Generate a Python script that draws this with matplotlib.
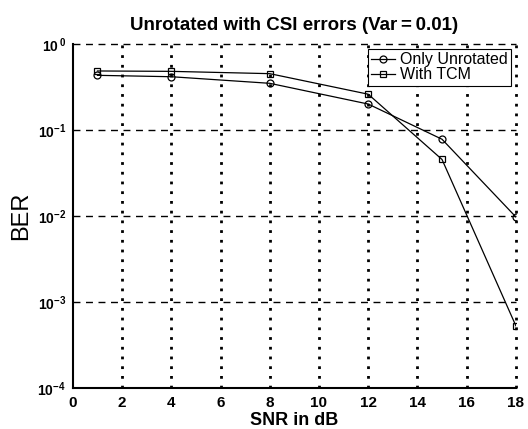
import matplotlib
matplotlib.use("Agg")
import matplotlib.pyplot as plt
from matplotlib.ticker import FixedLocator, NullLocator

snr = [1, 4, 8, 12, 15, 18]
ber_unrot = [0.436, 0.42, 0.352, 0.202, 0.0786, 0.0098]
ber_tcm = [0.49, 0.485, 0.456, 0.263, 0.0457, 0.00053]
labels = ["Only Unrotated", "With TCM"]
xticks = [0, 2, 4, 6, 8, 10, 12, 14, 16, 18]
yticks = [1e-4, 1e-3, 1e-2, 1e-1, 1e0]
ytick_labels = [r"$\mathbf{10^{-4}}$", r"$\mathbf{10^{-3}}$", r"$\mathbf{10^{-2}}$", r"$\mathbf{10^{-1}}$", r"$\mathbf{10^{\,0}}$"]

plt.rcParams['font.family'] = ['Liberation Sans', 'DejaVu Sans']
plt.rcParams['mathtext.fontset'] = 'custom'
plt.rcParams['mathtext.rm'] = 'Liberation Sans'
plt.rcParams['mathtext.bf'] = 'Liberation Sans:bold'

fig = plt.figure(figsize=(5.28, 4.29), dpi=100)
ax = fig.add_axes([0.138, 0.0956, 0.839, 0.801])

ax.plot(snr, ber_unrot, '-', color='black', lw=0.9, marker='o', ms=5,
        mfc='none', mec='black', mew=0.9, label=labels[0])
ax.plot(snr, ber_tcm, '-', color='black', lw=0.9, marker='s', ms=4.5,
        mfc='none', mec='black', mew=0.9, label=labels[1])

ax.set_yscale('log')
ax.set_xlim(0, 18)
ax.set_ylim(1e-4, 1)
ax.xaxis.set_major_locator(FixedLocator(xticks))
ax.set_xticklabels([str(t) for t in xticks], fontweight='bold', fontsize=11)
ax.yaxis.set_major_locator(FixedLocator(yticks))
ax.yaxis.set_minor_locator(NullLocator())
ax.set_yticklabels(ytick_labels, fontsize=10)
ax.tick_params(axis='x', length=0, pad=6)
ax.tick_params(axis='y', length=0, pad=5)

for x in xticks[1:]:
    ax.axvline(x, color='black', lw=2.0, ls=(0, (1, 2.5)), zorder=0, clip_on=False)
for y in yticks[1:]:
    ax.axhline(y, color='black', lw=1.0, ls=(0, (5, 4)), zorder=0, clip_on=False)

ax.spines['top'].set_visible(False)
ax.spines['right'].set_visible(False)
ax.spines['left'].set_linewidth(1.5)
ax.spines['bottom'].set_linewidth(1.5)

ax.set_title("Unrotated with CSI errors (Var\u2009=\u20090.01)", fontsize=13.5, fontweight='bold', pad=10)
ax.set_xlabel("SNR in dB", fontsize=13, fontweight='bold', labelpad=1)
ax.set_ylabel("BER", fontsize=17)
ax.yaxis.set_label_coords(-0.092, 0.5)

leg = ax.legend(loc='upper right', fontsize=11.5, frameon=True, fancybox=False,
                edgecolor='black', framealpha=1, handlelength=1.5, handletextpad=0.3,
                borderpad=0.2, labelspacing=0.0, borderaxespad=0.3)
leg.get_frame().set_linewidth(0.8)

fig.savefig("out.png", dpi=100)
